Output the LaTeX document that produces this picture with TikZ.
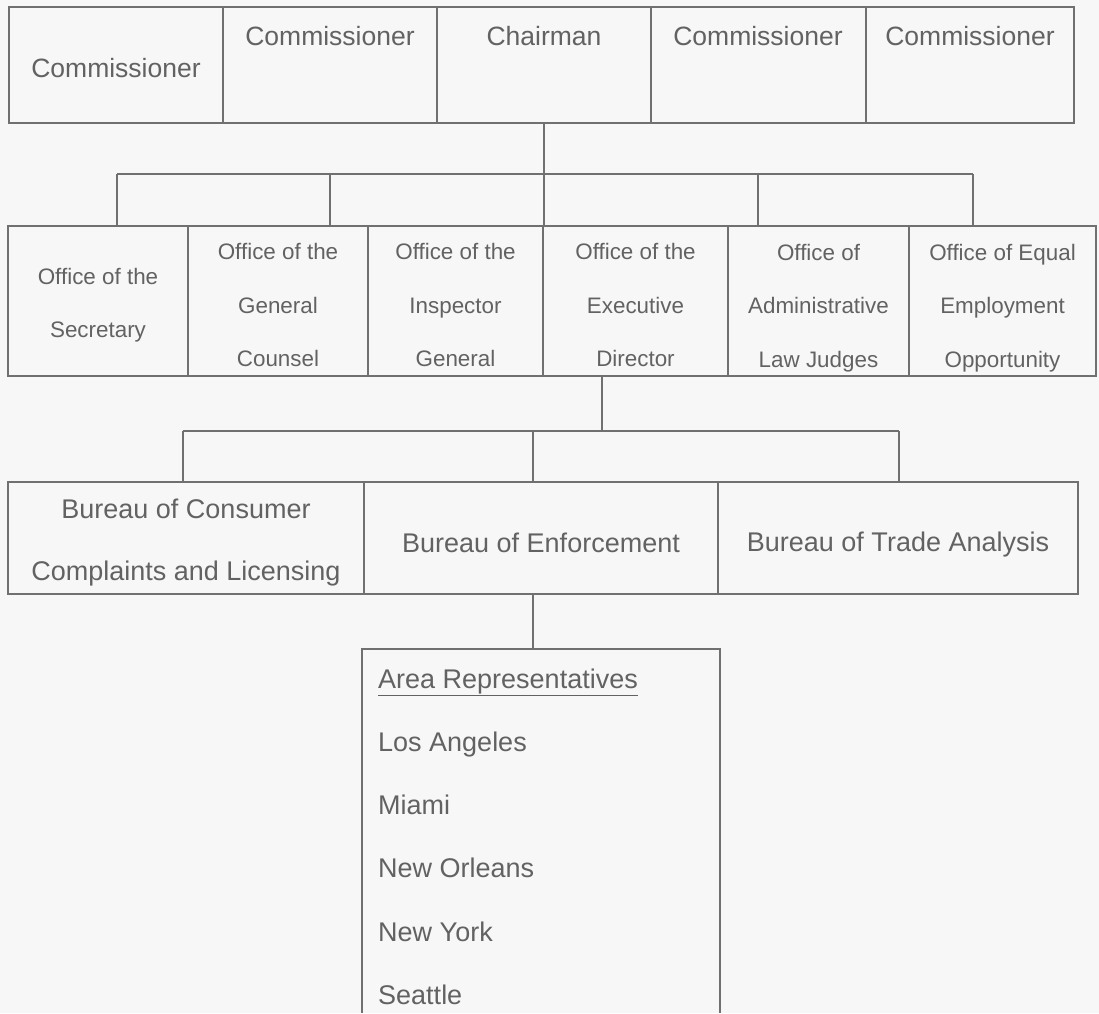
\documentclass[tikz,border=0pt]{standalone}
\usepackage{fontspec}
\setmainfont{Liberation Sans}
\usetikzlibrary{fit}
\definecolor{bgc}{RGB}{247,247,247}
\definecolor{linec}{RGB}{112,112,112}
\definecolor{txtc}{RGB}{98,98,98}
\begin{document}
\begin{tikzpicture}[x=1pt,y=-1pt,
  box/.style={draw=linec, line width=1.6pt, inner sep=0pt, rectangle},
  conn/.style={draw=linec, line width=1.6pt},
  ttop/.style={text=txtc, inner sep=0pt, font=\fontsize{26.5}{30}\selectfont},
  tmid/.style={text=txtc, inner sep=0pt, align=center, font=\fontsize{22.4}{53.5}\selectfont},
  tbur/.style={text=txtc, inner sep=0pt, align=center, font=\fontsize{27}{62}\selectfont},
  tarea/.style={text=txtc, inner sep=0pt, anchor=base west, font=\fontsize{27}{30}\selectfont}]
\fill[bgc] (0,0) rectangle (1099,1013);
\useasboundingbox (0,0) rectangle (1099,1013);

% top row
\node[box, fit={(9,7) (223,123)}] (c1) {};
\node[box, fit={(223,7) (437,123)}] (c2) {};
\node[box, fit={(437,7) (651,123)}] (chair) {};
\node[box, fit={(651,7) (866,123)}] (c4) {};
\node[box, fit={(866,7) (1074,123)}] (c5) {};
\node[ttop] (tc1) at (116,68) {Commissioner};
\node[ttop] (tc2) at (330,36) {Commissioner};
\node[ttop] (tch) at (544,36) {Chairman};
\node[ttop] (tc4) at (758,36) {Commissioner};
\node[ttop] (tc5) at (970,36) {Commissioner};

% second row
\node[box, fit={(8,226) (188,376)}] (sec) {};
\node[box, fit={(188,226) (368,376)}] (gc) {};
\node[box, fit={(368,226) (543,376)}] (ig) {};
\node[box, fit={(543,226) (728,376)}] (ed) {};
\node[box, fit={(728,226) (909,376)}] (alj) {};
\node[box, fit={(909,226) (1096,376)}] (eeo) {};
\node[tmid] (tsec) at (98,305) {Office of the\\Secretary};
\node[tmid] (tgc) at (278,305) {Office of the\\General\\Counsel};
\node[tmid] (tig) at (455.5,305) {Office of the\\Inspector\\General};
\node[tmid] (ted) at (635.5,305) {Office of the\\Executive\\Director};
\node[tmid] (talj) at (818.5,308) {Office of\\Administrative\\Law Judges};
\node[tmid] (teeo) at (1002.5,308) {Office of Equal\\Employment\\Opportunity};

% third row
\node[box, fit={(8,482) (364,594)}] (bcc) {};
\node[box, fit={(364,482) (718,594)}] (be) {};
\node[box, fit={(718,482) (1078,594)}] (bta) {};
\node[tbur] (tbcc) at (186,543) {Bureau of Consumer\\Complaints and Licensing};
\node[tbur] (tbe) at (541,543) {Bureau of Enforcement};
\node[tbur] (tbta) at (898,545) {Bureau of Trade Analysis};

% area representatives
\node[draw=none, inner sep=0pt, fit={(362,649) (720,1013)}] (area) {};
\draw[conn] (area.south west) -- (area.north west) -- (area.north east) -- (area.south east);
\node[tarea] (a1) at (378,688) {\underline{Area Representatives}};
\node[tarea] (a2) at (378,751) {Los Angeles};
\node[tarea] (a3) at (378,814) {Miami};
\node[tarea] (a4) at (378,877) {New Orleans};
\node[tarea] (a5) at (378,941) {New York};
\node[tarea] (a6) at (378,1004) {Seattle};

% connectors level 1
\coordinate (d1) at (117,174);
\coordinate (d2) at (330,174);
\coordinate (d4) at (758,174);
\coordinate (d5) at (973,174);
\draw[conn] (chair.south) -- (chair.south |- sec.north);
\draw[conn] (d1) -- (d5);
\draw[conn] (d1) -- (d1 |- sec.north);
\draw[conn] (d2) -- (d2 |- gc.north);
\draw[conn] (d4) -- (d4 |- alj.north);
\draw[conn] (d5) -- (d5 |- eeo.north);

% connectors level 2
\coordinate (edout) at (602,376);
\coordinate (e1) at (183,431);
\coordinate (e2) at (533,431);
\coordinate (e3) at (899,431);
\draw[conn] (edout) -- (edout |- e1);
\draw[conn] (e1) -- (e3);
\draw[conn] (e1) -- (e1 |- bcc.north);
\draw[conn] (e2) -- (e2 |- be.north);
\draw[conn] (e3) -- (e3 |- bta.north);

% connector level 3
\coordinate (beout) at (533,594);
\draw[conn] (beout) -- (beout |- area.north);
\end{tikzpicture}
\end{document}
